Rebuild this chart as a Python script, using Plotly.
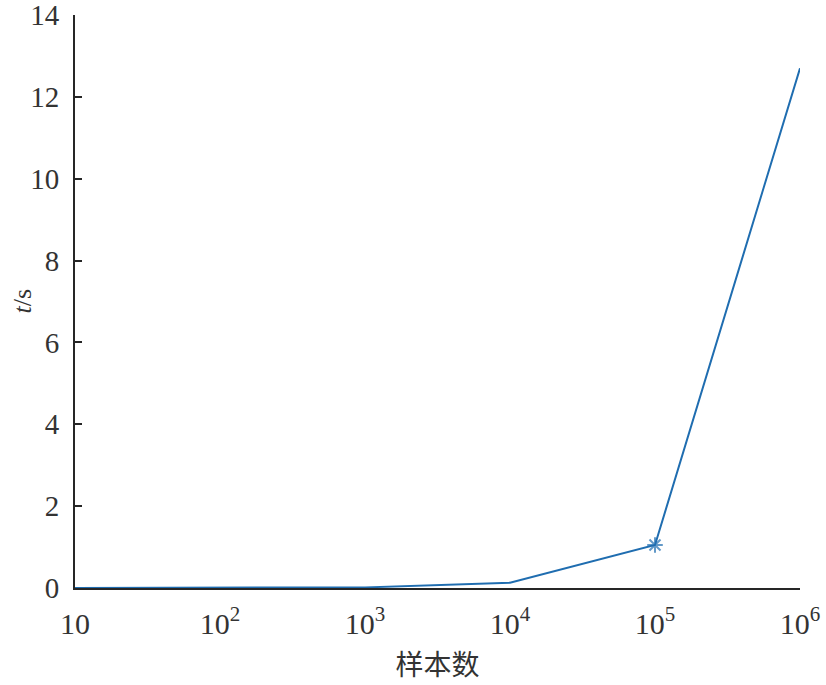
import plotly.graph_objects as go

sample_counts = [10, 100, 1000, 10000, 100000, 1000000]
tick_labels = ["10", "10<sup>2</sup>", "10<sup>3</sup>", "10<sup>4</sup>", "10<sup>5</sup>", "10<sup>6</sup>"]
time_s = [0.0, 0.002, 0.015, 0.13, 1.05, 12.7]
marker_sizes = [0, 0, 0, 0, 13, 0]

color = "#1f6db0"
fig = go.Figure()
fig.add_trace(go.Scatter(
    x=sample_counts, y=time_s, mode="lines+markers",
    line=dict(color=color, width=2),
    marker=dict(symbol="asterisk-open", size=marker_sizes, color=color,
                line=dict(color=color, width=2)),
    showlegend=False, cliponaxis=False,
))

font_serif = "Liberation Serif"
fig.update_layout(
    width=826, height=685,
    margin=dict(l=75, r=26, t=15, b=97),
    paper_bgcolor="white", plot_bgcolor="white",
    font=dict(family=font_serif, color="#333333", size=29),
    xaxis=dict(
        type="log", range=[1, 6], automargin=False,
        tickvals=sample_counts, ticktext=tick_labels,
        showgrid=False, zeroline=False,
        showline=True, linecolor="#262626", linewidth=2,
        ticks="", ticklabelstandoff=8, ticklabeloverflow="allow",
        tickfont=dict(family=font_serif, size=30, color="#333333"),
        title=dict(text="样本数", standoff=16,
                   font=dict(family="Noto Sans CJK SC", size=28, color="#333333")),
    ),
    yaxis=dict(
        range=[0, 14], dtick=2, automargin=False,
        showgrid=False, zeroline=False,
        showline=True, linecolor="#262626", linewidth=2,
        ticks="inside", ticklen=7, tickwidth=2, tickcolor="#262626",
        ticklabelstandoff=8, ticklabeloverflow="allow",
        tickfont=dict(family=font_serif, size=29, color="#333333"),
    ),
    annotations=[dict(
        text="<i>t</i>/s", xref="paper", yref="paper", x=0, y=0.5,
        xanchor="center", yanchor="middle", xshift=-53, textangle=-90,
        showarrow=False, font=dict(family=font_serif, size=26, color="#333333"),
    )],
)

fig.write_html("out.html", config={"displayModeBar": False},
               post_script="document.body.style.margin='0';document.body.style.overflow='hidden';")
